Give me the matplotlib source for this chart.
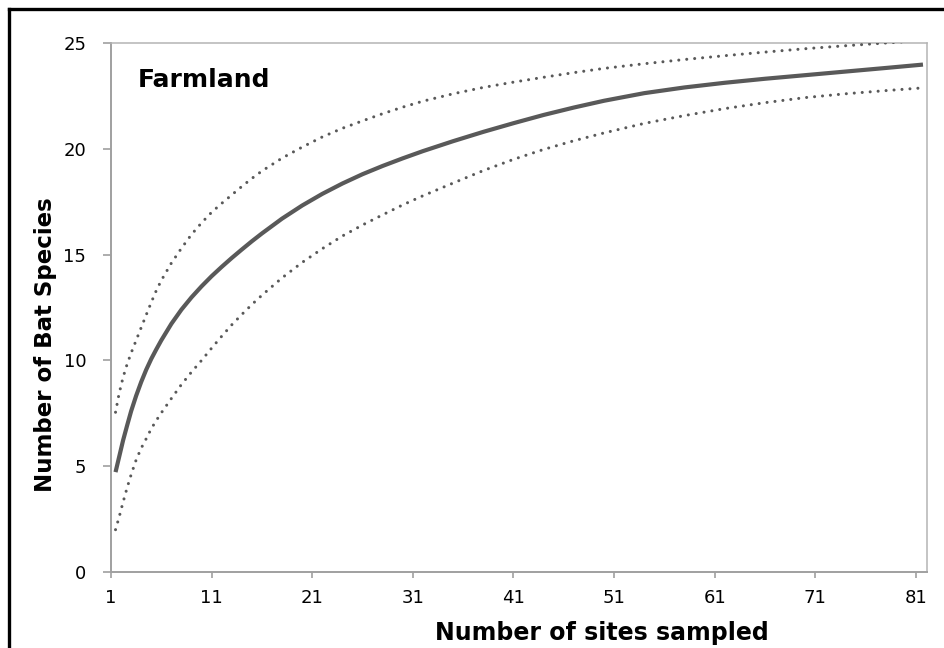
import matplotlib
matplotlib.use("Agg")
import matplotlib.pyplot as plt
from matplotlib.lines import Line2D

# Species accumulation curve for farmland sites (mean with upper/lower bounds)
sites = [1.45, 1.8, 2.2, 2.6, 3, 3.5, 4, 4.5, 5, 5.5, 6, 7, 8, 9, 10, 11, 12,
         13, 14, 15, 16, 18, 20, 22, 24, 26, 28, 30, 32, 35, 38, 41, 44, 47,
         50, 54, 58, 62, 66, 70, 74, 78, 81.7]
mean_species = [4.72, 5.42, 6.22, 6.92, 7.6, 8.33, 8.98, 9.56, 10.07, 10.52,
                10.95, 11.73, 12.4, 12.98, 13.5, 13.98, 14.42, 14.84, 15.24,
                15.63, 16.0, 16.7, 17.32, 17.87, 18.36, 18.8, 19.19, 19.55,
                19.89, 20.36, 20.8, 21.21, 21.6, 21.95, 22.27, 22.63, 22.9,
                23.12, 23.31, 23.48, 23.65, 23.82, 23.98]
upper_species = [7.55, 8.42, 9.2, 9.82, 10.35, 10.95, 11.55, 12.15, 12.74,
                 13.3, 13.78, 14.6, 15.3, 15.95, 16.5, 17.0, 17.42, 17.82,
                 18.22, 18.6, 18.95, 19.56, 20.08, 20.56, 20.97, 21.32, 21.66,
                 21.97, 22.25, 22.6, 22.9, 23.15, 23.38, 23.6, 23.8, 24.02,
                 24.22, 24.4, 24.57, 24.73, 24.87, 25.0, 25.12]
lower_species = [2.0, 2.58, 3.3, 3.98, 4.6, 5.3, 5.85, 6.3, 6.77, 7.16, 7.52,
                 8.2, 8.86, 9.45, 10.0, 10.58, 11.14, 11.68, 12.17, 12.64,
                 13.08, 13.9, 14.63, 15.28, 15.88, 16.4, 16.88, 17.35, 17.78,
                 18.38, 18.97, 19.5, 19.97, 20.38, 20.75, 21.2, 21.57, 21.9,
                 22.18, 22.42, 22.6, 22.75, 22.88]

x_ticks = [1, 11, 21, 31, 41, 51, 61, 71, 81]
y_ticks = [0, 5, 10, 15, 20, 25]

plt.rcParams['font.family'] = ['DejaVu Sans']

fig = plt.figure(figsize=(9.45, 6.48), dpi=100)
ax = fig.add_axes([111 / 945, 1 - 572 / 648, 816 / 945, 529 / 648])

line_color = '#595959'
ax.plot(sites, mean_species, color=line_color, lw=3.0, solid_capstyle='butt',
        solid_joinstyle='round', zorder=3)
for series in (upper_species, lower_species):
    ax.plot(sites, series, color=line_color, lw=2.2, dashes=(0.01, 2.6),
            dash_capstyle='round', zorder=3)

ax.set_xlim(1, 82.1)
ax.set_ylim(0, 25)
ax.set_xticks(x_ticks)
ax.set_yticks(y_ticks)

for side in ('left', 'bottom'):
    ax.spines[side].set_color('#a0a0a0')
    ax.spines[side].set_linewidth(1.4)
for side in ('top', 'right'):
    ax.spines[side].set_color('#b4b4b4')
    ax.spines[side].set_linewidth(1.1)

ax.tick_params(axis='both', direction='out', width=1.2, color='#a0a0a0',
               labelsize=13, labelcolor='black')
ax.tick_params(axis='y', length=5.8, pad=12)
ax.tick_params(axis='x', length=4.5, pad=8)

ax.set_xlabel('Number of sites sampled', fontsize=17, fontweight='bold')
ax.xaxis.set_label_coords(0.601, -0.092)
ax.set_ylabel('Number of Bat Species', fontsize=16.5, fontweight='bold')
ax.yaxis.set_label_coords(-0.066, 0.429)

ax.text(0.033, 0.917, 'Farmland', transform=ax.transAxes, fontsize=18,
        fontweight='bold', va='baseline', ha='left')

# Heavy frame along the top and left edges of the figure
fig.add_artist(Line2D([9 / 945, 9 / 945], [0, 1 - 9 / 648],
                      transform=fig.transFigure, color='black', lw=2.4,
                      solid_capstyle='projecting'))
fig.add_artist(Line2D([9 / 945, 1], [1 - 9 / 648, 1 - 9 / 648],
                      transform=fig.transFigure, color='black', lw=2.4,
                      solid_capstyle='projecting'))

fig.savefig('out.png', dpi=100)
